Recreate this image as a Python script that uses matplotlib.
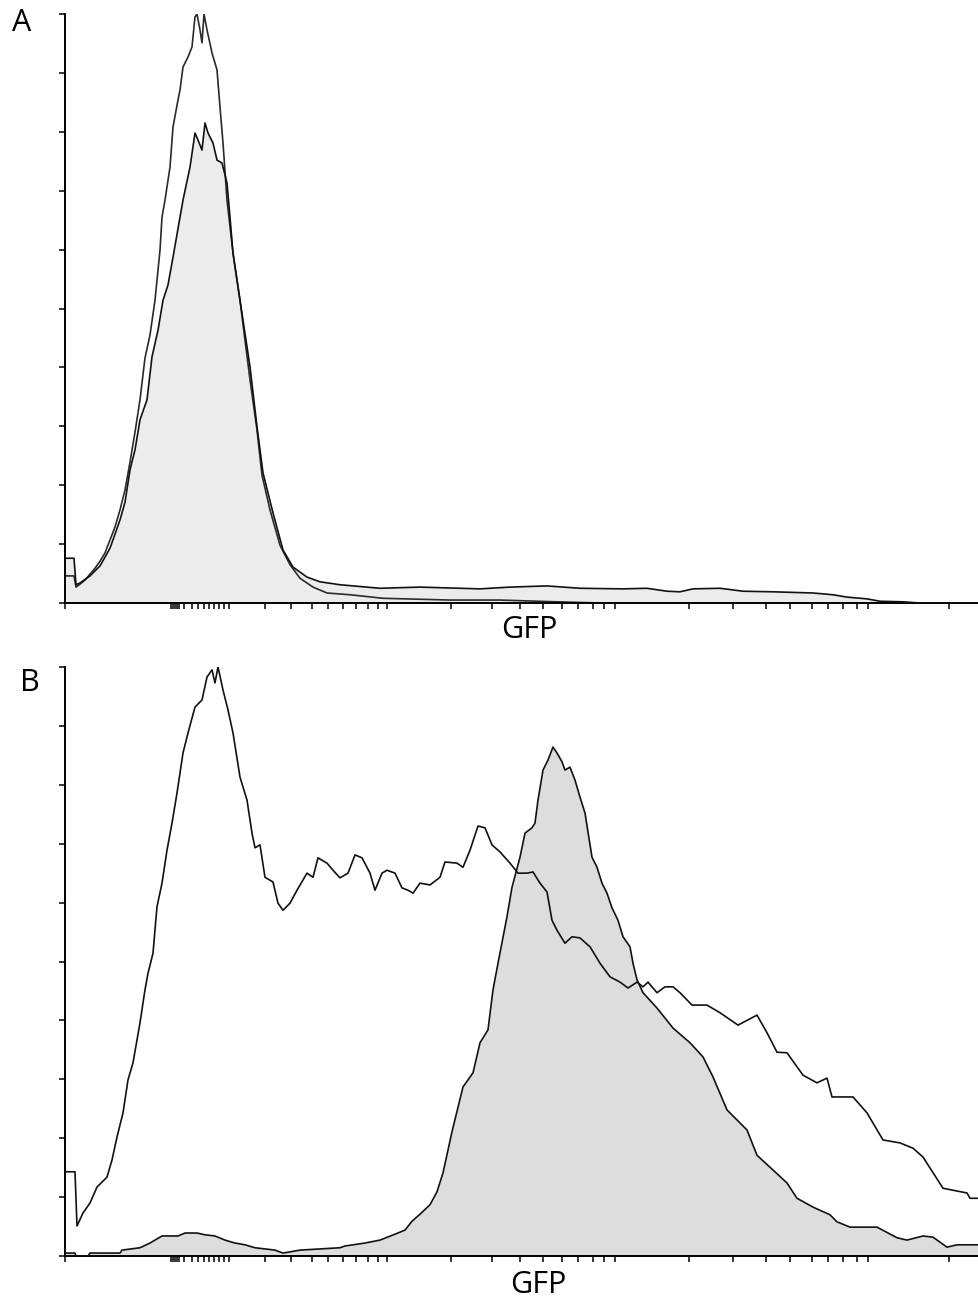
import matplotlib
matplotlib.use("Agg")
import matplotlib.pyplot as plt

plt.rcParams['font.family'] = ['Open Sans', 'DejaVu Sans']

# ---------------- data (GFP channel, % of max) ----------------
# Panel A - open (tall) histogram
a_open_x = [0, 9, 11, 15, 20, 25, 30, 35, 40, 45, 50, 55, 60, 65, 70, 75, 80, 85, 90, 95,
            97, 100, 105, 108, 113, 115, 118, 123, 127, 130, 132, 135, 137, 139, 142, 147,
            152, 155, 158, 162, 168, 175, 185, 192, 197, 205, 215, 225, 235, 248, 262, 285,
            318, 385, 435, 492, 535, 914]
a_open_y = [4.6, 4.6, 2.7, 3.2, 3.9, 4.9, 5.9, 7.1, 8.5, 10.7, 12.9, 15.8, 19.2, 23.9, 29.0,
            34.5, 41.6, 45.5, 51.4, 59.9, 65.5, 68.4, 74.0, 80.8, 85.4, 87.1, 91.0, 92.7, 94.4,
            99.5, 100, 97.3, 95.1, 100, 97.3, 93.4, 90.5, 84.2, 78.1, 68.4, 59.4, 51.4, 37.9,
            29.4, 21.7, 15.8, 9.8, 6.5, 4.2, 2.7, 1.7, 1.4, 0.8, 0.5, 0.5, 0.2, 0, 0]

# Panel A - filled histogram
a_fill_x = [0, 9, 11, 15, 25, 35, 45, 55, 60, 65, 70, 75, 82, 87, 93, 98, 103, 108, 115, 118,
            125, 130, 133, 137, 140, 143, 148, 152, 157, 162, 165, 168, 175, 185, 192, 198,
            208, 218, 228, 242, 255, 275, 315, 355, 415, 445, 482, 515, 558, 582, 602, 615,
            628, 655, 678, 708, 748, 768, 782, 802, 815, 838, 855, 914]
a_fill_y = [7.6, 7.6, 3.1, 3.4, 4.6, 6.3, 9.3, 14.1, 17.1, 22.6, 26.0, 31.1, 34.5, 41.8, 46.3,
            51.4, 54.0, 58.7, 65.5, 68.4, 74.0, 79.8, 78.6, 76.9, 81.5, 79.8, 78.1, 75.2, 74.7,
            71.3, 65.5, 59.4, 51.4, 40.1, 29.9, 22.1, 15.3, 9.0, 6.1, 4.4, 3.6, 3.1, 2.5, 2.7,
            2.4, 2.7, 2.9, 2.5, 2.4, 2.5, 2.0, 1.9, 2.4, 2.5, 2.0, 1.9, 1.7, 1.4, 1.0, 0.7,
            0.3, 0.2, 0, 0]

# Panel B - open histogram
b_open_x = [0, 10, 12, 18, 25, 32, 42, 47, 52, 58, 63, 68, 75, 80, 83, 88, 92, 97, 102, 107,
            112, 118, 123, 130, 137, 142, 147, 150, 153, 158, 163, 168, 175, 182, 187, 190,
            195, 200, 208, 213, 218, 225, 232, 242, 248, 253, 262, 268, 275, 283, 290, 297,
            305, 310, 317, 322, 330, 337, 343, 348, 355, 365, 375, 380, 392, 398, 405, 413,
            420, 427, 435, 445, 453, 462, 468, 475, 482, 487, 492, 500, 507, 515, 525, 535,
            545, 555, 563, 572, 578, 583, 592, 600, 608, 615, 627, 642, 655, 673, 692, 702,
            712, 722, 738, 752, 762, 767, 788, 802, 818, 835, 848, 858, 878, 902, 905, 914]
b_open_y = [14.3, 14.3, 5.1, 7.3, 9.0, 11.7, 13.4, 16.3, 20.2, 24.3, 29.9, 32.8, 39.6, 45.2,
            48.0, 51.4, 59.3, 63.3, 68.9, 73.5, 78.6, 85.4, 88.8, 93.2, 94.4, 98.3, 99.5,
            97.3, 100, 96.1, 92.7, 88.8, 81.3, 77.4, 71.8, 69.3, 69.8, 64.3, 63.5, 59.9, 58.7,
            59.9, 62.1, 65.0, 64.3, 67.6, 66.7, 65.5, 64.2, 65.0, 68.1, 67.6, 65.0, 62.1, 65.0,
            65.5, 65.0, 62.5, 62.1, 61.6, 63.3, 63.0, 64.3, 66.9, 66.7, 66.0, 68.9, 73.0, 72.7,
            69.8, 68.6, 66.7, 65.0, 65.0, 65.2, 63.3, 61.8, 57.0, 55.3, 53.1, 54.2, 54.0, 52.5,
            49.7, 47.4, 46.5, 45.5, 46.5, 45.7, 46.5, 44.7, 45.7, 45.7, 44.7, 42.6, 42.6, 41.3,
            39.2, 40.9, 37.9, 34.6, 34.5, 30.7, 29.4, 30.2, 27.0, 27.0, 24.3, 19.7, 19.2, 18.3,
            16.8, 11.5, 10.7, 9.8, 9.8]

# Panel B - filled histogram
b_fill_x = [0, 10, 11, 23, 25, 55, 57, 75, 85, 97, 113, 120, 132, 140, 150, 160, 170, 180,
            190, 210, 218, 225, 235, 275, 280, 300, 315, 330, 340, 347, 355, 365, 372, 378,
            387, 398, 408, 415, 423, 428, 433, 442, 447, 455, 460, 467, 470, 473, 478, 483,
            488, 492, 497, 500, 505, 510, 515, 520, 527, 532, 537, 542, 547, 553, 558, 565,
            568, 572, 578, 592, 608, 625, 638, 648, 662, 682, 692, 708, 722, 732, 748, 765,
            772, 785, 812, 832, 842, 858, 868, 882, 892, 914]
b_fill_y = [0.5, 0.5, 0, 0, 0.5, 0.5, 1.0, 1.4, 2.2, 3.4, 3.4, 3.9, 3.9, 3.6, 3.4, 2.7, 2.2,
            1.9, 1.4, 1.0, 0.5, 0.7, 1.0, 1.4, 1.7, 2.2, 2.7, 3.7, 4.4, 5.9, 7.1, 8.7, 10.9,
            14.1, 21.1, 28.7, 31.1, 36.2, 38.4, 45.2, 49.7, 57.6, 62.6, 67.7, 71.8, 72.7, 73.5,
            77.4, 82.5, 84.2, 86.4, 85.4, 83.9, 82.5, 83.0, 80.8, 77.9, 75.2, 67.7, 66.0, 63.3,
            61.6, 59.1, 57.0, 54.2, 52.5, 49.7, 46.9, 44.7, 42.1, 38.7, 36.2, 33.8, 30.4, 24.8,
            21.4, 17.1, 14.6, 12.4, 9.8, 8.3, 7.0, 5.8, 4.9, 4.9, 3.1, 2.7, 3.4, 3.2, 1.5, 1.9,
            1.9]

# axis ticks (GFP channel positions on the biexponential scale, unlabeled)
x_ticks = [0, 106, 108, 110, 112, 114, 119, 127, 133, 139, 144, 149, 154, 159, 164,
           200, 226, 247, 263, 278, 291, 303, 313, 322,
           386, 427, 455, 478, 497, 513, 528, 539, 550,
           624, 668, 701, 725, 747, 763, 778, 792, 803, 884]
y_ticks = [0, 10, 20, 30, 40, 50, 60, 70, 80, 90, 100]
x_label = "GFP"
panel_labels = ["A", "B"]

# ---------------- figure ----------------
W, H = 979, 1302
fig = plt.figure(figsize=(W / 100, H / 100), dpi=100)

def make_ax(top_px, bottom_px):
    return fig.add_axes([65 / W, (H - bottom_px) / H, 914 / W, (bottom_px - top_px) / H])

axA = make_ax(14, 603)
axB = make_ax(667, 1256)

def style(ax):
    ax.set_xlim(0, 914)
    ax.set_ylim(0, 100)
    for s in ['top', 'right']:
        ax.spines[s].set_visible(False)
    for s in ['left', 'bottom']:
        ax.spines[s].set_linewidth(1.4)
        ax.spines[s].set_color('black')
    ax.set_xticks(x_ticks)
    ax.set_yticks(y_ticks)
    ax.set_xticklabels([])
    ax.set_yticklabels([])
    ax.tick_params(axis='both', direction='out', length=4, width=1.1, color='black')

# Panel A
axA.fill_between(a_fill_x, a_fill_y, 0, color='#ececec', lw=0, zorder=1)
axA.plot(a_fill_x, a_fill_y, color='#111111', lw=1.2, zorder=3)
axA.plot(a_open_x, a_open_y, color='#2a2a2a', lw=1.2, zorder=2)
style(axA)

# Panel B
axB.fill_between(b_fill_x, b_fill_y, 0, color='#dddddd', lw=0, zorder=1)
axB.plot(b_fill_x, b_fill_y, color='#111111', lw=1.2, zorder=3)
axB.plot(b_open_x, b_open_y, color='#111111', lw=1.2, zorder=2)
style(axB)

fig.text(529 / W, 1 - 630 / H, x_label, ha='center', va='center', fontsize=22)
fig.text(538 / W, 1 - 1285 / H, x_label, ha='center', va='center', fontsize=22)
fig.text(22 / W, 1 - 23 / H, panel_labels[0], ha='center', va='center', fontsize=22)
fig.text(30 / W, 1 - 683 / H, panel_labels[1], ha='center', va='center', fontsize=22)

fig.savefig("out.png", dpi=100)
